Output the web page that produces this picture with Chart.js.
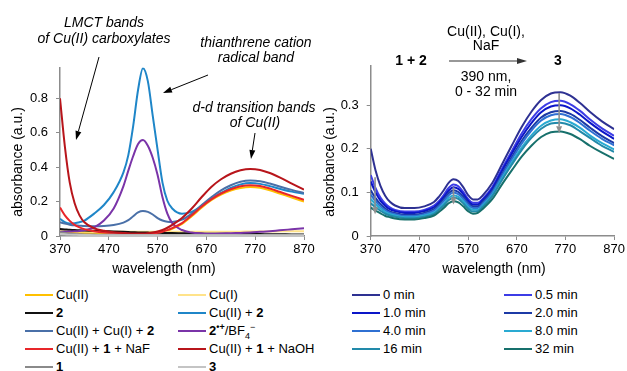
<!DOCTYPE html>
<html>
<head>
<meta charset="utf-8">
<script src="https://cdn.jsdelivr.net/npm/chart.js@4.4.1/dist/chart.umd.min.js"></script>
<style>
  html, body { margin: 0; padding: 0; background: #fff; }
  #wrap { position: relative; width: 627px; height: 371px; overflow: hidden; font-family: "Liberation Sans", Arial, sans-serif; }
  canvas { position: absolute; top: 0; }
  #leftChart { left: 0; }
  #rightChart { left: 322px; }
  .legend-item { position: absolute; height: 18px; line-height: 18px; font-size: 13px; color: #000; white-space: nowrap; display: flex; align-items: center; }
  .legend-line { display: inline-block; width: 28px; height: 2px; margin-right: 3px; }
  .legend-item sup, .legend-item sub { font-size: 9px; line-height: 0; }
</style>
</head>
<body>
<div id="wrap">
  <canvas id="leftChart" width="322" height="285"></canvas>
  <canvas id="rightChart" width="305" height="285"></canvas>
  <div id="legend"></div>
</div>
<script>
// wavelength grid (nm) shared by all spectra
const wavelengths = [370, 380, 390, 400, 410, 420, 440, 460, 480, 500, 510, 520, 530, 540, 550, 560, 570, 580, 590,
  600, 620, 640, 660, 680, 700, 720, 740, 760, 780, 800, 820, 845, 870];

const xTicks = [370, 470, 570, 670, 770, 870];
const leftYTicks = [0, 0.2, 0.4, 0.6, 0.8];
const rightYTicks = [0, 0.1, 0.2, 0.3];

// left panel: reference spectra
const cuII = [0.018, 0.018, 0.017, 0.017, 0.016, 0.016, 0.015, 0.015, 0.015, 0.015, 0.015, 0.015, 0.015, 0.015, 0.016, 0.017, 0.02, 0.025, 0.032,
  0.042, 0.07, 0.115, 0.165, 0.208, 0.24, 0.264, 0.279, 0.285, 0.28, 0.266, 0.247, 0.224, 0.2];
const cuI = [0.03, 0.029, 0.028, 0.028, 0.027, 0.027, 0.026, 0.026, 0.025, 0.025, 0.025, 0.025, 0.025, 0.025, 0.025, 0.025, 0.025, 0.025, 0.025,
  0.025, 0.025, 0.025, 0.025, 0.025, 0.025, 0.025, 0.025, 0.026, 0.026, 0.026, 0.027, 0.027, 0.028];
const comp2 = [0.04, 0.038, 0.036, 0.035, 0.033, 0.032, 0.03, 0.028, 0.026, 0.024, 0.023, 0.022, 0.021, 0.021, 0.02, 0.019, 0.019, 0.018, 0.018,
  0.017, 0.016, 0.015, 0.014, 0.013, 0.013, 0.012, 0.012, 0.011, 0.011, 0.01, 0.01, 0.009, 0.009];
const cuIIplus2 = [0.1, 0.08, 0.072, 0.074, 0.08, 0.09, 0.13, 0.18, 0.255, 0.37, 0.47, 0.64, 0.85, 0.975, 0.9, 0.7, 0.5, 0.31, 0.205,
  0.16, 0.13, 0.14, 0.175, 0.215, 0.25, 0.28, 0.3, 0.308, 0.303, 0.29, 0.275, 0.258, 0.245];
const cuIIcuIplus2 = [0.08, 0.072, 0.066, 0.062, 0.06, 0.058, 0.056, 0.058, 0.064, 0.078, 0.092, 0.115, 0.137, 0.145, 0.14, 0.125, 0.104, 0.09, 0.083,
  0.082, 0.095, 0.13, 0.178, 0.225, 0.265, 0.295, 0.315, 0.322, 0.318, 0.305, 0.288, 0.268, 0.25];
const radicalBF4 = [0.025, 0.025, 0.026, 0.027, 0.029, 0.033, 0.05, 0.09, 0.16, 0.29, 0.38, 0.465, 0.535, 0.558, 0.525, 0.455, 0.355, 0.225, 0.13,
  0.075, 0.035, 0.02, 0.015, 0.013, 0.014, 0.016, 0.018, 0.02, 0.024, 0.028, 0.033, 0.039, 0.045];
const cuII1NaF = [0.165, 0.12, 0.088, 0.065, 0.05, 0.04, 0.028, 0.02, 0.016, 0.013, 0.012, 0.012, 0.012, 0.012, 0.013, 0.015, 0.019, 0.025, 0.034,
  0.046, 0.075, 0.12, 0.17, 0.213, 0.247, 0.272, 0.289, 0.295, 0.29, 0.276, 0.257, 0.233, 0.21];
const cuII1NaOH = [0.8, 0.52, 0.31, 0.19, 0.12, 0.08, 0.045, 0.03, 0.022, 0.018, 0.016, 0.015, 0.015, 0.015, 0.016, 0.02, 0.026, 0.035, 0.048,
  0.065, 0.105, 0.16, 0.225, 0.285, 0.33, 0.362, 0.382, 0.39, 0.384, 0.366, 0.341, 0.305, 0.27];
const comp1 = [0.022, 0.017, 0.013, 0.011, 0.01, 0.009, 0.008, 0.007, 0.007, 0.006, 0.006, 0.006, 0.006, 0.006, 0.006, 0.006, 0.006, 0.006, 0.006,
  0.006, 0.006, 0.006, 0.006, 0.006, 0.006, 0.006, 0.005, 0.005, 0.005, 0.005, 0.005, 0.005, 0.005];
const comp3 = [0.012, 0.01, 0.008, 0.007, 0.006, 0.006, 0.005, 0.005, 0.005, 0.005, 0.005, 0.005, 0.005, 0.005, 0.005, 0.005, 0.005, 0.005, 0.005,
  0.005, 0.005, 0.005, 0.005, 0.005, 0.005, 0.004, 0.004, 0.004, 0.004, 0.004, 0.004, 0.004, 0.004];

const leftValues = [cuII, cuI, comp2, cuIIplus2, cuIIcuIplus2, radicalBF4, cuII1NaF, cuII1NaOH, comp1, comp3];
const leftLabels = ["Cu(II)", "Cu(I)", "<b>2</b>", "Cu(II) + <b>2</b>", "Cu(II) + Cu(I) + <b>2</b>",
  "<b>2<sup>•+</sup></b>/BF<sub>4</sub><sup>−</sup>", "Cu(II) + <b>1</b> + NaF", "Cu(II) + <b>1</b> + NaOH", "<b>1</b>", "<b>3</b>"];
const leftColors = ["#FFC000", "#FFE38A", "#111111", "#1F86C8", "#4A70A8", "#7A34A8", "#E8262A", "#B8151B", "#8A8A8A", "#C4C4C4"];

// right panel: time course under irradiation
const t0 = [0.2, 0.15, 0.115, 0.092, 0.078, 0.07, 0.064, 0.064, 0.068, 0.078, 0.09, 0.105, 0.122, 0.13, 0.126, 0.112, 0.094, 0.084, 0.084,
  0.093, 0.122, 0.165, 0.208, 0.25, 0.285, 0.312, 0.327, 0.33, 0.322, 0.305, 0.285, 0.263, 0.245];
const t05 = [0.14, 0.11, 0.088, 0.074, 0.065, 0.06, 0.056, 0.056, 0.06, 0.07, 0.08, 0.094, 0.11, 0.118, 0.114, 0.101, 0.085, 0.076, 0.076,
  0.085, 0.113, 0.155, 0.195, 0.235, 0.268, 0.293, 0.307, 0.31, 0.302, 0.287, 0.268, 0.247, 0.23];
const t1 = [0.125, 0.1, 0.081, 0.069, 0.061, 0.057, 0.053, 0.053, 0.057, 0.066, 0.076, 0.089, 0.104, 0.112, 0.108, 0.096, 0.081, 0.072, 0.072,
  0.082, 0.109, 0.15, 0.189, 0.227, 0.259, 0.284, 0.297, 0.3, 0.293, 0.278, 0.26, 0.24, 0.223];
const t2 = [0.105, 0.087, 0.073, 0.063, 0.056, 0.053, 0.049, 0.049, 0.053, 0.062, 0.072, 0.084, 0.098, 0.105, 0.101, 0.09, 0.076, 0.068, 0.068,
  0.078, 0.104, 0.143, 0.181, 0.218, 0.248, 0.272, 0.284, 0.287, 0.28, 0.266, 0.249, 0.229, 0.213];
const t4 = [0.095, 0.08, 0.068, 0.059, 0.053, 0.05, 0.046, 0.046, 0.05, 0.058, 0.068, 0.08, 0.093, 0.1, 0.096, 0.085, 0.072, 0.064, 0.064,
  0.074, 0.1, 0.139, 0.176, 0.212, 0.242, 0.265, 0.277, 0.28, 0.273, 0.259, 0.242, 0.223, 0.208];
const t8 = [0.085, 0.073, 0.063, 0.055, 0.05, 0.047, 0.043, 0.043, 0.047, 0.054, 0.063, 0.074, 0.087, 0.093, 0.09, 0.08, 0.067, 0.06, 0.06,
  0.07, 0.095, 0.133, 0.169, 0.203, 0.231, 0.253, 0.265, 0.268, 0.261, 0.248, 0.231, 0.213, 0.199];
const t16 = [0.075, 0.066, 0.058, 0.051, 0.047, 0.044, 0.041, 0.041, 0.044, 0.051, 0.06, 0.07, 0.082, 0.088, 0.085, 0.075, 0.063, 0.056, 0.057,
  0.067, 0.092, 0.129, 0.164, 0.197, 0.225, 0.246, 0.258, 0.26, 0.254, 0.24, 0.225, 0.207, 0.193];
const t32 = [0.065, 0.058, 0.052, 0.046, 0.043, 0.04, 0.038, 0.038, 0.041, 0.047, 0.055, 0.064, 0.075, 0.08, 0.077, 0.068, 0.057, 0.051, 0.053,
  0.062, 0.085, 0.119, 0.151, 0.182, 0.207, 0.227, 0.238, 0.24, 0.234, 0.222, 0.207, 0.191, 0.177];

const rightValues = [t0, t05, t1, t2, t4, t8, t16, t32];
const rightLabels = ["0 min", "0.5 min", "1.0 min", "2.0 min", "4.0 min", "8.0 min", "16 min", "32 min"];
const rightColors = ["#2E3192", "#3C3CE6", "#0C16C8", "#1C3AA6", "#2F70D2", "#2AAAD2", "#228AAA", "#17706C"];

// time-course arrows on the right panel: wavelength, start and end absorbance
const changeArrowsX = [379, 540, 757];
const changeArrowsFrom = [0.135, 0.112, 0.328];
const changeArrowsTo = [0.05, 0.072, 0.236];

Chart.defaults.font.family = '"Liberation Sans", Arial, sans-serif';
Chart.defaults.color = "#000";

const AXIS_GRAY = "#8c8c8c";

function drawArrow(ctx, x1, y1, x2, y2, color, width, headLen, headWidth) {
  const ang = Math.atan2(y2 - y1, x2 - x1);
  const bx = x2 - headLen * Math.cos(ang);
  const by = y2 - headLen * Math.sin(ang);
  ctx.save();
  ctx.strokeStyle = color;
  ctx.fillStyle = color;
  ctx.lineWidth = width;
  ctx.beginPath();
  ctx.moveTo(x1, y1);
  ctx.lineTo(bx, by);
  ctx.stroke();
  ctx.beginPath();
  ctx.moveTo(x2, y2);
  ctx.lineTo(bx + (headWidth / 2) * Math.sin(ang), by - (headWidth / 2) * Math.cos(ang));
  ctx.lineTo(bx - (headWidth / 2) * Math.sin(ang), by + (headWidth / 2) * Math.cos(ang));
  ctx.closePath();
  ctx.fill();
  ctx.restore();
}

const notesPlugin = {
  id: "notes",
  afterDraw(chart, args, opts) {
    const ctx = chart.ctx;
    (opts.texts || []).forEach((t) => {
      ctx.save();
      ctx.font = t.font || '14px "Liberation Sans", Arial, sans-serif';
      ctx.fillStyle = "#000";
      ctx.textAlign = "center";
      ctx.textBaseline = "middle";
      ctx.translate(t.x, t.y);
      if (t.rotate) ctx.rotate(t.rotate);
      ctx.fillText(t.text, 0, 0);
      ctx.restore();
    });
    (opts.arrows || []).forEach((a) => {
      drawArrow(ctx, a.x1, a.y1, a.x2, a.y2, a.color || "#000", a.width || 1, a.head || 9, a.headWidth || 6);
    });
    if (opts.dataArrows) {
      const xs = chart.scales.x;
      const ys = chart.scales.y;
      opts.dataArrows.x.forEach((wl, i) => {
        const px = xs.getPixelForValue(wl);
        drawArrow(ctx, px, ys.getPixelForValue(opts.dataArrows.from[i]), px, ys.getPixelForValue(opts.dataArrows.to[i]),
          "#8f8f8f", 1.6, 7, 6);
      });
    }
  }
};

function buildChart(canvasId, values, colors, yMax, yTicks, yWidth, padding, notes) {
  const datasets = values.map((vals, i) => ({
    data: vals.map((v, j) => ({ x: wavelengths[j], y: v })),
    borderColor: colors[i],
    borderWidth: 2,
    pointRadius: 0,
    cubicInterpolationMode: "monotone",
    fill: false,
    order: values.length - i
  }));
  return new Chart(document.getElementById(canvasId), {
    type: "line",
    data: { datasets },
    options: {
      responsive: false,
      animation: false,
      events: [],
      layout: { padding },
      plugins: { legend: { display: false }, tooltip: { enabled: false }, notes },
      scales: {
        x: {
          type: "linear",
          min: 370,
          max: 870,
          afterBuildTicks: (scale) => { scale.ticks = xTicks.map((v) => ({ value: v })); },
          afterFit: (scale) => { scale.height = 49; },
          ticks: { padding: 2, font: { size: 13 }, color: "#000", maxRotation: 0, autoSkip: false },
          grid: { drawOnChartArea: false, tickLength: 4, color: AXIS_GRAY },
          border: { color: AXIS_GRAY, width: 1.5 }
        },
        y: {
          min: 0,
          max: yMax,
          afterBuildTicks: (scale) => { scale.ticks = yTicks.map((v) => ({ value: v })); },
          afterFit: (scale) => { scale.width = yWidth; },
          ticks: { padding: 8, font: { size: 13 }, color: "#000", callback: (v) => String(Math.round(v * 100) / 100) },
          grid: { drawOnChartArea: false, tickLength: 4, color: AXIS_GRAY },
          border: { color: AXIS_GRAY, width: 1.5 }
        }
      }
    },
    plugins: [notesPlugin]
  });
}

const ITALIC = 'italic 14px "Liberation Sans", Arial, sans-serif';
const BOLD = 'bold 14px "Liberation Sans", Arial, sans-serif';

buildChart("leftChart", leftValues, leftColors, 0.98, leftYTicks, 60, { left: 0, top: 67.4, right: 18, bottom: 0 }, {
  texts: [
    { text: "LMCT bands", x: 104, y: 23, font: ITALIC },
    { text: "of Cu(II) carboxylates", x: 104, y: 39, font: ITALIC },
    { text: "thianthrene cation", x: 256, y: 43, font: ITALIC },
    { text: "radical band", x: 256, y: 58, font: ITALIC },
    { text: "d-d transition bands", x: 254, y: 108, font: ITALIC },
    { text: "of Cu(II)", x: 255, y: 123, font: ITALIC },
    { text: "absorbance (a.u.)", x: 18, y: 162, rotate: -Math.PI / 2 },
    { text: "wavelength (nm)", x: 164, y: 269 }
  ],
  arrows: [
    { x1: 99, y1: 57, x2: 76, y2: 140 },
    { x1: 208, y1: 75, x2: 163, y2: 93 },
    { x1: 255, y1: 133, x2: 251, y2: 159 }
  ]
});

buildChart("rightChart", rightValues, rightColors, 0.39, rightYTicks, 48.7, { left: 0, top: 66, right: 11.3, bottom: 0 }, {
  texts: [
    { text: "Cu(II), Cu(I),", x: 164, y: 32 },
    { text: "NaF", x: 164, y: 46 },
    { text: "1 + 2", x: 89, y: 61, font: BOLD },
    { text: "3", x: 236, y: 61, font: BOLD },
    { text: "390 nm,", x: 164, y: 77 },
    { text: "0 - 32 min", x: 164, y: 92 },
    { text: "absorbance (a.u.)", x: 8, y: 162, rotate: -Math.PI / 2 },
    { text: "wavelength (nm)", x: 172, y: 269 }
  ],
  arrows: [{ x1: 127, y1: 61, x2: 205, y2: 61, color: "#333", width: 1.2, head: 10, headWidth: 6 }],
  dataArrows: { x: changeArrowsX, from: changeArrowsFrom, to: changeArrowsTo }
});

// html legends, two columns each
function renderLegend(labels, colors, colX) {
  const holder = document.getElementById("legend");
  labels.forEach((label, i) => {
    const item = document.createElement("div");
    item.className = "legend-item";
    item.style.left = colX[i % 2] + "px";
    item.style.top = (286 + Math.floor(i / 2) * 18) + "px";
    const line = document.createElement("span");
    line.className = "legend-line";
    line.style.background = colors[i];
    const text = document.createElement("span");
    text.innerHTML = label;
    item.appendChild(line);
    item.appendChild(text);
    holder.appendChild(item);
  });
}

renderLegend(leftLabels, leftColors, [25, 178]);
renderLegend(rightLabels, rightColors, [352, 504]);
</script>
</body>
</html>
